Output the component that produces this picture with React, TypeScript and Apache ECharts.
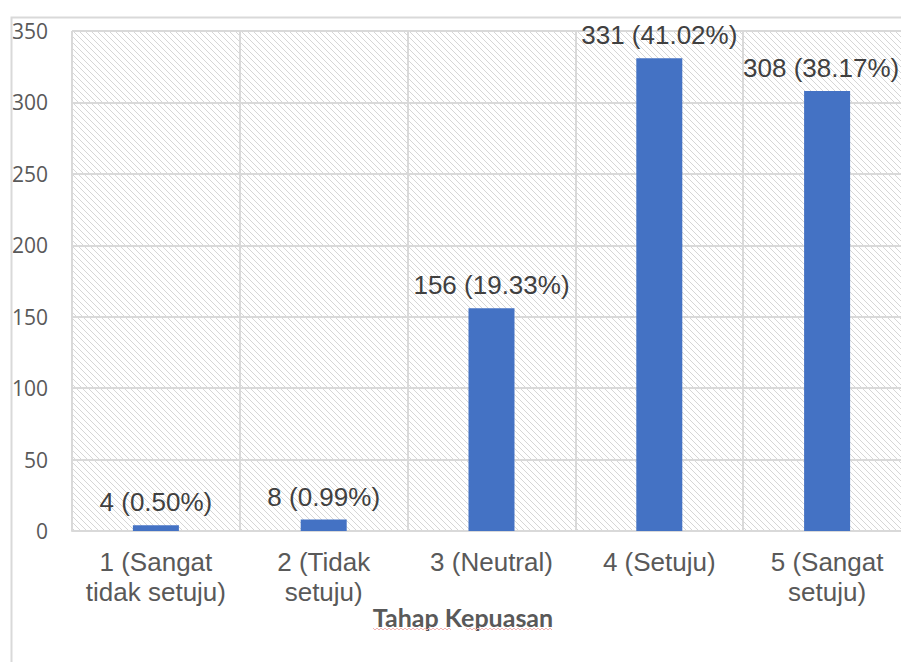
import React, { useEffect, useRef } from "react";
import * as echarts from "echarts";

const categories = [
  "1 (Sangat\ntidak setuju)",
  "2 (Tidak\nsetuju)",
  "3 (Neutral)",
  "4 (Setuju)",
  "5 (Sangat\nsetuju)",
];
const counts = [4, 8, 156, 331, 308];
const percents = ["0.50%", "0.99%", "19.33%", "41.02%", "38.17%"];
const yMin = 0;
const yMax = 350;
const yInterval = 50;
const axisTitle = "Tahap Kepuasan";

function makeHatch(): HTMLCanvasElement {
  const c = document.createElement("canvas");
  const s = 6;
  c.width = s;
  c.height = s;
  const ctx = c.getContext("2d")!;
  ctx.fillStyle = "#ffffff";
  ctx.fillRect(0, 0, s, s);
  ctx.strokeStyle = "#d6d6d6";
  ctx.lineWidth = 1;
  for (const off of [-s, 0, s]) {
    ctx.beginPath();
    ctx.moveTo(off, 0);
    ctx.lineTo(off + s, s);
    ctx.stroke();
  }
  return c;
}

function wave(x0: number, x1: number, y: number): number[][] {
  const pts: number[][] = [];
  let i = 0;
  for (let x = x0; x <= x1; x += 2) {
    pts.push([x, y + (i % 2 === 0 ? -1 : 1)]);
    i++;
  }
  return pts;
}

export default function App() {
  const ref = useRef<HTMLDivElement>(null);
  useEffect(() => {
    if (!ref.current) return;
    const chart = echarts.init(ref.current, null, { renderer: "svg" });
    const hatch = makeHatch();
    const lastIdx = counts.length - 1;
    chart.setOption({
      animation: false,
      backgroundColor: "#ffffff",
      grid: {
        left: 72,
        top: 31,
        width: 839,
        bottom: 131,
        containLabel: false,
        outerBoundsMode: "none",
        show: true,
        borderWidth: 0,
        backgroundColor: { image: hatch, repeat: "repeat" },
      },
      xAxis: {
        type: "category",
        data: categories,
        boundaryGap: true,
        axisLine: { show: true, lineStyle: { color: "#d9d9d9", width: 2 } },
        axisTick: { show: false },
        splitLine: { show: true, lineStyle: { color: "#d9d9d9", width: 2 } },
        axisLabel: {
          color: "#595959",
          fontFamily: "Liberation Sans, Arial, sans-serif",
          fontSize: 26,
          lineHeight: 30,
          margin: 16,
          interval: 0,
          align: "center",
        },
      },
      yAxis: {
        type: "value",
        min: yMin,
        max: yMax,
        interval: yInterval,
        axisLine: { show: false },
        axisTick: { show: false },
        splitLine: { show: true, lineStyle: { color: "#d9d9d9", width: 2 } },
        axisLabel: {
          color: "#595959",
          fontFamily: "Open Sans, sans-serif",
          fontSize: 21,
          margin: 24,
        },
      },
      series: [
        {
          type: "bar",
          data: counts.map((v, i) =>
            i === lastIdx ? { value: v, label: { offset: [-6, 0] } } : v
          ),
          barWidth: 46,
          itemStyle: { color: "#4472C4" },
          label: {
            show: true,
            position: "top",
            distance: 10,
            color: "#404040",
            fontFamily: "Liberation Sans, Arial, sans-serif",
            fontSize: 26,
            formatter: (p: any) => `${p.value} (${percents[p.dataIndex]})`,
          },
        },
      ],
      graphic: [
        {
          type: "rect",
          left: 9,
          top: 15,
          shape: { x: 0, y: 0, width: 1000, height: 1000 },
          style: { fill: "none", stroke: "#d9d9d9", lineWidth: 2 },
          silent: true,
          z: 100,
        },
        {
          type: "text",
          x: 463,
          y: 617,
          style: {
            text: axisTitle,
            fill: "#595959",
            font: "bold 25px Lato, sans-serif",
            textAlign: "center",
            textVerticalAlign: "middle",
          },
        },
        {
          type: "polyline",
          shape: { points: wave(373, 452, 629) },
          style: { stroke: "#f4b4b4", lineWidth: 1, fill: "none" },
        },
        {
          type: "polyline",
          shape: { points: wave(466, 553, 629) },
          style: { stroke: "#f4b4b4", lineWidth: 1, fill: "none" },
        },
      ],
    });
    return () => chart.dispose();
  }, []);
  return (
    <div
      ref={ref}
      style={{ position: "fixed", left: 0, top: 0, width: 901, height: 662 }}
    />
  );
}
